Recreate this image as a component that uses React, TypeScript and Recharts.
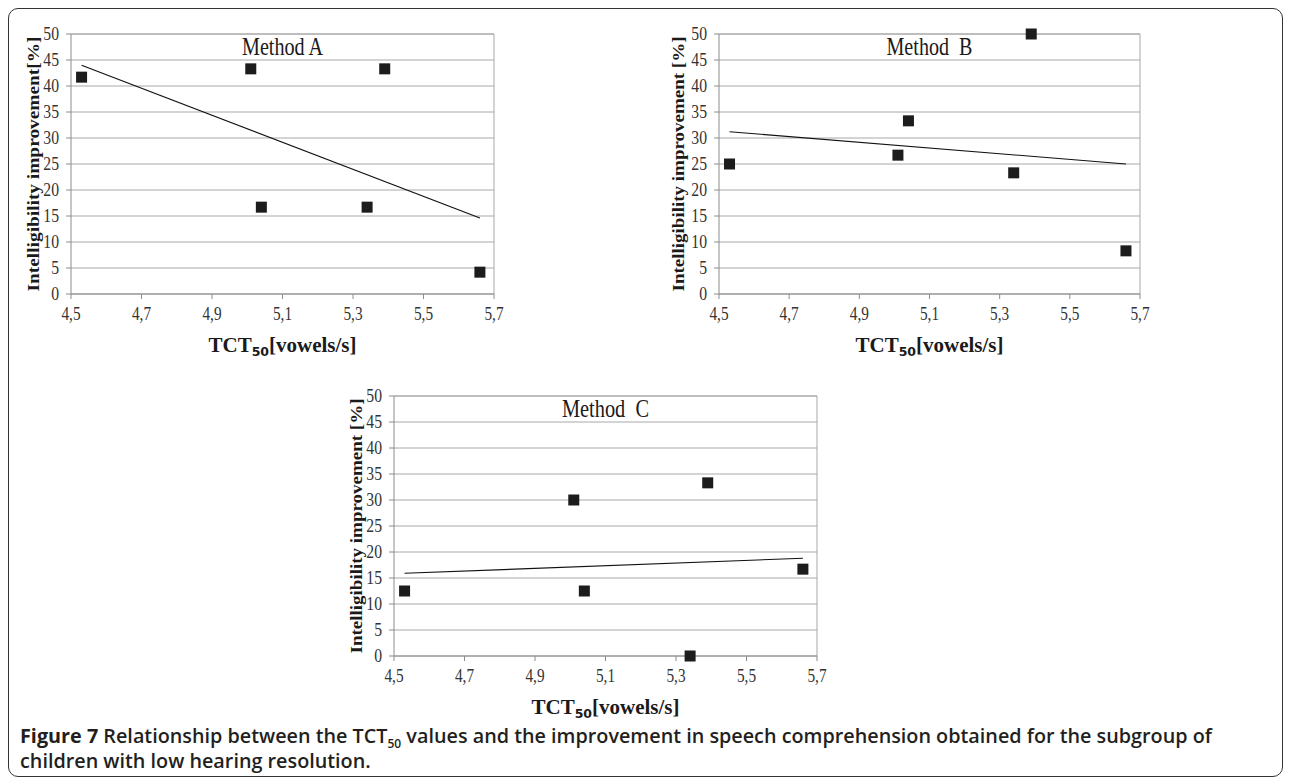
import { ScatterChart, Scatter, XAxis, YAxis, CartesianGrid, ReferenceLine } from 'recharts';

// x values (TCT50, vowels/s) shared by the three panels
const tctValues = [4.53, 5.01, 5.04, 5.34, 5.39, 5.66];
const methodA = [41.7, 43.3, 16.7, 16.7, 43.3, 4.2];
const methodB = [25.0, 26.7, 33.3, 23.3, 50.0, 8.3];
const methodC = [12.5, 30.0, 12.5, 0.0, 33.3, 16.7];

// linear trend line end points
const trendX = [4.53, 5.66];
const trendA = [44.0, 14.6];
const trendB = [31.2, 25.0];
const trendC = [15.9, 18.8];

const xTicks = [4.5, 4.7, 4.9, 5.1, 5.3, 5.5, 5.7];
const yTicks = [0, 5, 10, 15, 20, 25, 30, 35, 40, 45, 50];

const SERIF = '"Liberation Serif", "Times New Roman", serif';
const GRID = '#a8a8a8';
const AXIS = '#8c8c8c';
const INK = '#1a1a1a';

const toPoints = (ys: number[], xs: number[]) => xs.map((x, i) => ({ x, y: ys[i] }));
const fmtComma = (v: number) => v.toFixed(1).replace('.', ',');

const SquareDot = (props: any) => {
  const { cx, cy } = props;
  if (cx == null || cy == null) return <g />;
  return <rect x={cx - 5.5} y={cy - 5.5} width={11} height={11} fill="#1c1c1c" />;
};

const NoDot = () => <g />;

// tick labels look a bit condensed in the original
const XTick = (props: any) => {
  const { x, y, payload } = props;
  return (
    <g transform={`translate(${x},${y})`}>
      <text transform="scale(0.85,1)" textAnchor="middle" dy="0.71em" fontFamily={SERIF} fontSize={18} fill="#333">
        {fmtComma(payload.value)}
      </text>
    </g>
  );
};

const YTick = (props: any) => {
  const { x, y, payload } = props;
  return (
    <g transform={`translate(${x},${y})`}>
      <text transform="scale(0.87,1)" textAnchor="end" dy="0.36em" fontFamily={SERIF} fontSize={18} fill="#333">
        {payload.value}
      </text>
    </g>
  );
};

const XTitle = (props: any) => {
  const vb = props.viewBox || {};
  const cx = vb.x + vb.width / 2;
  return (
    <text x={cx} y={vb.y + 58} textAnchor="middle" fontFamily={SERIF} fontWeight="bold" fontSize={21} fill={INK}>
      TCT
      <tspan dy={4} fontFamily='"DejaVu Sans", sans-serif' fontSize={12.5}>50</tspan>
      <tspan dy={-4}>[vowels/s]</tspan>
    </text>
  );
};

const YTitle = (props: any) => {
  const vb = props.viewBox || {};
  const x = vb.x + vb.width - props.gap;
  const y = vb.y + vb.height / 2;
  return (
    <text
      x={x}
      y={y}
      transform={`rotate(-90 ${x} ${y})`}
      textAnchor="middle"
      dominantBaseline="central"
      fontFamily={SERIF}
      fontWeight="bold"
      fontSize={17}
      textLength={255}
      lengthAdjust="spacingAndGlyphs"
      fill={INK}
    >
      {props.text}
    </text>
  );
};

const PlotTitle = (props: any) => {
  const vb = props.viewBox || {};
  return (
    <text
      x={vb.x + vb.width / 2}
      y={vb.y + 21}
      textAnchor="middle"
      fontFamily={SERIF}
      fontSize={25}
      textLength={props.len}
      lengthAdjust="spacingAndGlyphs"
      style={{ whiteSpace: 'pre' }}
      fill={INK}
    >
      {props.text}
    </text>
  );
};

interface PanelProps {
  left: number;
  top: number;
  axisWidth: number;
  rightMargin: number;
  titleGap: number;
  title: string;
  titleLen: number;
  yTitle: string;
  values: number[];
  trend: number[];
}

function Panel({ left, top, axisWidth, rightMargin, titleGap, title, titleLen, yTitle, values, trend }: PanelProps) {
  const pts = toPoints(values, tctValues);
  const line = toPoints(trend, trendX);
  return (
    <div style={{ position: 'absolute', left, top }}>
      <ScatterChart width={520} height={370} margin={{ top: 34, right: rightMargin, bottom: 6, left: 0 }}>
        <CartesianGrid vertical={false} horizontalValues={yTicks} stroke={GRID} strokeWidth={1} />
        <XAxis
          type="number"
          dataKey="x"
          domain={[4.5, 5.7]}
          ticks={xTicks}
          allowDataOverflow
          height={70}
          tickSize={5}
          tickMargin={8}
          stroke={AXIS}
          tick={<XTick />}
          label={<XTitle />}
        />
        <YAxis
          type="number"
          dataKey="y"
          domain={[0, 50]}
          ticks={yTicks}
          width={axisWidth}
          tickSize={5}
          tickMargin={7}
          stroke={AXIS}
          tick={<YTick />}
          label={<YTitle text={yTitle} gap={titleGap} />}
        />
        <ReferenceLine x={5.7} stroke={GRID} strokeWidth={1} />
        <ReferenceLine y={50} stroke={GRID} strokeWidth={1} label={<PlotTitle text={title} len={titleLen} />} />
        <Scatter data={line} line={{ stroke: '#111', strokeWidth: 1.1 }} shape={NoDot} isAnimationActive={false} />
        <Scatter data={pts} shape={SquareDot} isAnimationActive={false} />
      </ScatterChart>
    </div>
  );
}

export default function App() {
  return (
    <div style={{ position: 'fixed', left: 0, top: 0, width: 1290, height: 784, background: '#fff', overflow: 'hidden' }}>
      <div
        style={{
          position: 'absolute',
          left: 8,
          top: 8,
          width: 1273,
          height: 767,
          border: '1.5px solid #333',
          borderRadius: 10,
        }}
      />
      <Panel left={0} top={0} axisWidth={71} rightMargin={26} titleGap={38} title="Method A" titleLen={81} yTitle="Intelligibility improvement[%]" values={methodA} trend={trendA} />
      <Panel left={640} top={0} axisWidth={79} rightMargin={20} titleGap={41} title="Method  B" titleLen={86} yTitle="Intelligibility improvement [%]" values={methodB} trend={trendB} />
      <Panel left={320} top={362} axisWidth={74} rightMargin={23} titleGap={38} title="Method  C" titleLen={87} yTitle="Intelligibility improvement [%]" values={methodC} trend={trendC} />
      <div
        style={{
          position: 'absolute',
          left: 20,
          top: 723,
          width: 1260,
          fontFamily: '"Open Sans", sans-serif',
          fontWeight: 600,
          fontSize: 19.8,
          lineHeight: '25px',
          color: '#231f20',
          whiteSpace: 'nowrap',
        }}
      >
        <span style={{ fontWeight: 700 }}>Figure 7</span> Relationship between the TCT
        <span style={{ fontSize: 12, position: 'relative', top: 5, lineHeight: 0 }}>50</span> values and the improvement in speech
        comprehension obtained for the subgroup of
        <br />
        children with low hearing resolution.
      </div>
    </div>
  );
}
